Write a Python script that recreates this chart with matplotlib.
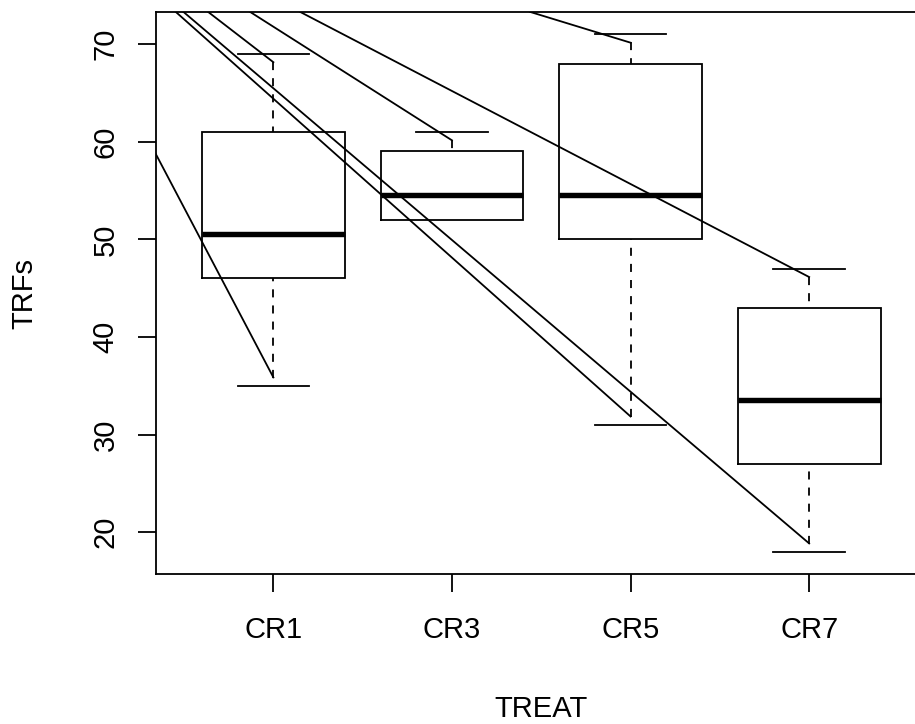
import numpy as np
import matplotlib.pyplot as plt

plt.rcParams['font.family'] = ['Liberation Sans', 'DejaVu Sans']
plt.rcParams['lines.scale_dashes'] = False

groups = ['CR1', 'CR3', 'CR5', 'CR7']
whisk_lo = [35, 52, 31, 18]
q1 = [46, 52, 50, 27]
med = [50.5, 54.5, 54.5, 33.5]
q3 = [61, 59, 68, 43]
whisk_hi = [69, 61, 71, 47]

# stray segments left by the original renderer: start point -> first dash of each whisker
stray_hi_x = [0.634, 0.869, 2.436, 1.149]
stray_hi_y = [73.3, 73.3, 73.3, 73.3]
stray_lo_x = [0.34, None, 0.453, 0.496]
stray_lo_y = [58.8, None, 73.3, 73.3]

gap = 0.86   # length of the missing first dash, in data units
lw = 1.3

fig = plt.figure(figsize=(9.15, 7.24), dpi=100)
ax = fig.add_axes([0.16995, 0.2072, 0.8432, 0.7762])

pos = np.arange(1, len(groups) + 1)
half = 0.4
for i, x in enumerate(pos):
    # box
    ax.plot([x - half, x + half, x + half, x - half, x - half],
            [q1[i], q1[i], q3[i], q3[i], q1[i]], color='black', lw=lw, solid_joinstyle='miter')
    ax.plot([x - half, x + half], [med[i], med[i]], color='black', lw=3.9, solid_capstyle='butt')
    # whiskers, dashed from the staple toward the box, first dash missing
    for w, b in [(whisk_lo[i], q1[i]), (whisk_hi[i], q3[i])]:
        if w != b:
            ax.plot([x, x], [w, b], color='black', lw=lw, linestyle=(5.8, (5.8, 5.8)))
            ax.plot([x - half / 2, x + half / 2], [w, w], color='black', lw=lw)
    # stray lines
    if stray_hi_x[i] is not None:
        ax.plot([stray_hi_x[i], x], [stray_hi_y[i], whisk_hi[i] - gap], color='black', lw=lw)
    if stray_lo_x[i] is not None:
        ax.plot([stray_lo_x[i], x], [stray_lo_y[i], whisk_lo[i] + gap], color='black', lw=lw)

ax.set_xlim(0.34, 4.66)
ax.set_ylim(15.73, 73.28)
ax.set_xticks(pos)
ax.set_xticklabels(groups)
ax.set_yticks([20, 30, 40, 50, 60, 70])
ax.tick_params(axis='both', length=13, width=lw, labelsize=21, color='black')
ax.tick_params(axis='x', pad=17)
ax.tick_params(axis='y', pad=13)
for lab in ax.get_yticklabels():
    lab.set_rotation(90)
    lab.set_va('center')
for sp in ax.spines.values():
    sp.set_linewidth(lw)

ax.set_xlabel('TREAT', fontsize=21, va='center')
ax.xaxis.set_label_coords(0.5, -0.241)
ax.set_ylabel('TRFs', fontsize=21, va='center')
ax.yaxis.set_label_coords(-0.1705, 0.5)

fig.savefig('out.png', dpi=100)
